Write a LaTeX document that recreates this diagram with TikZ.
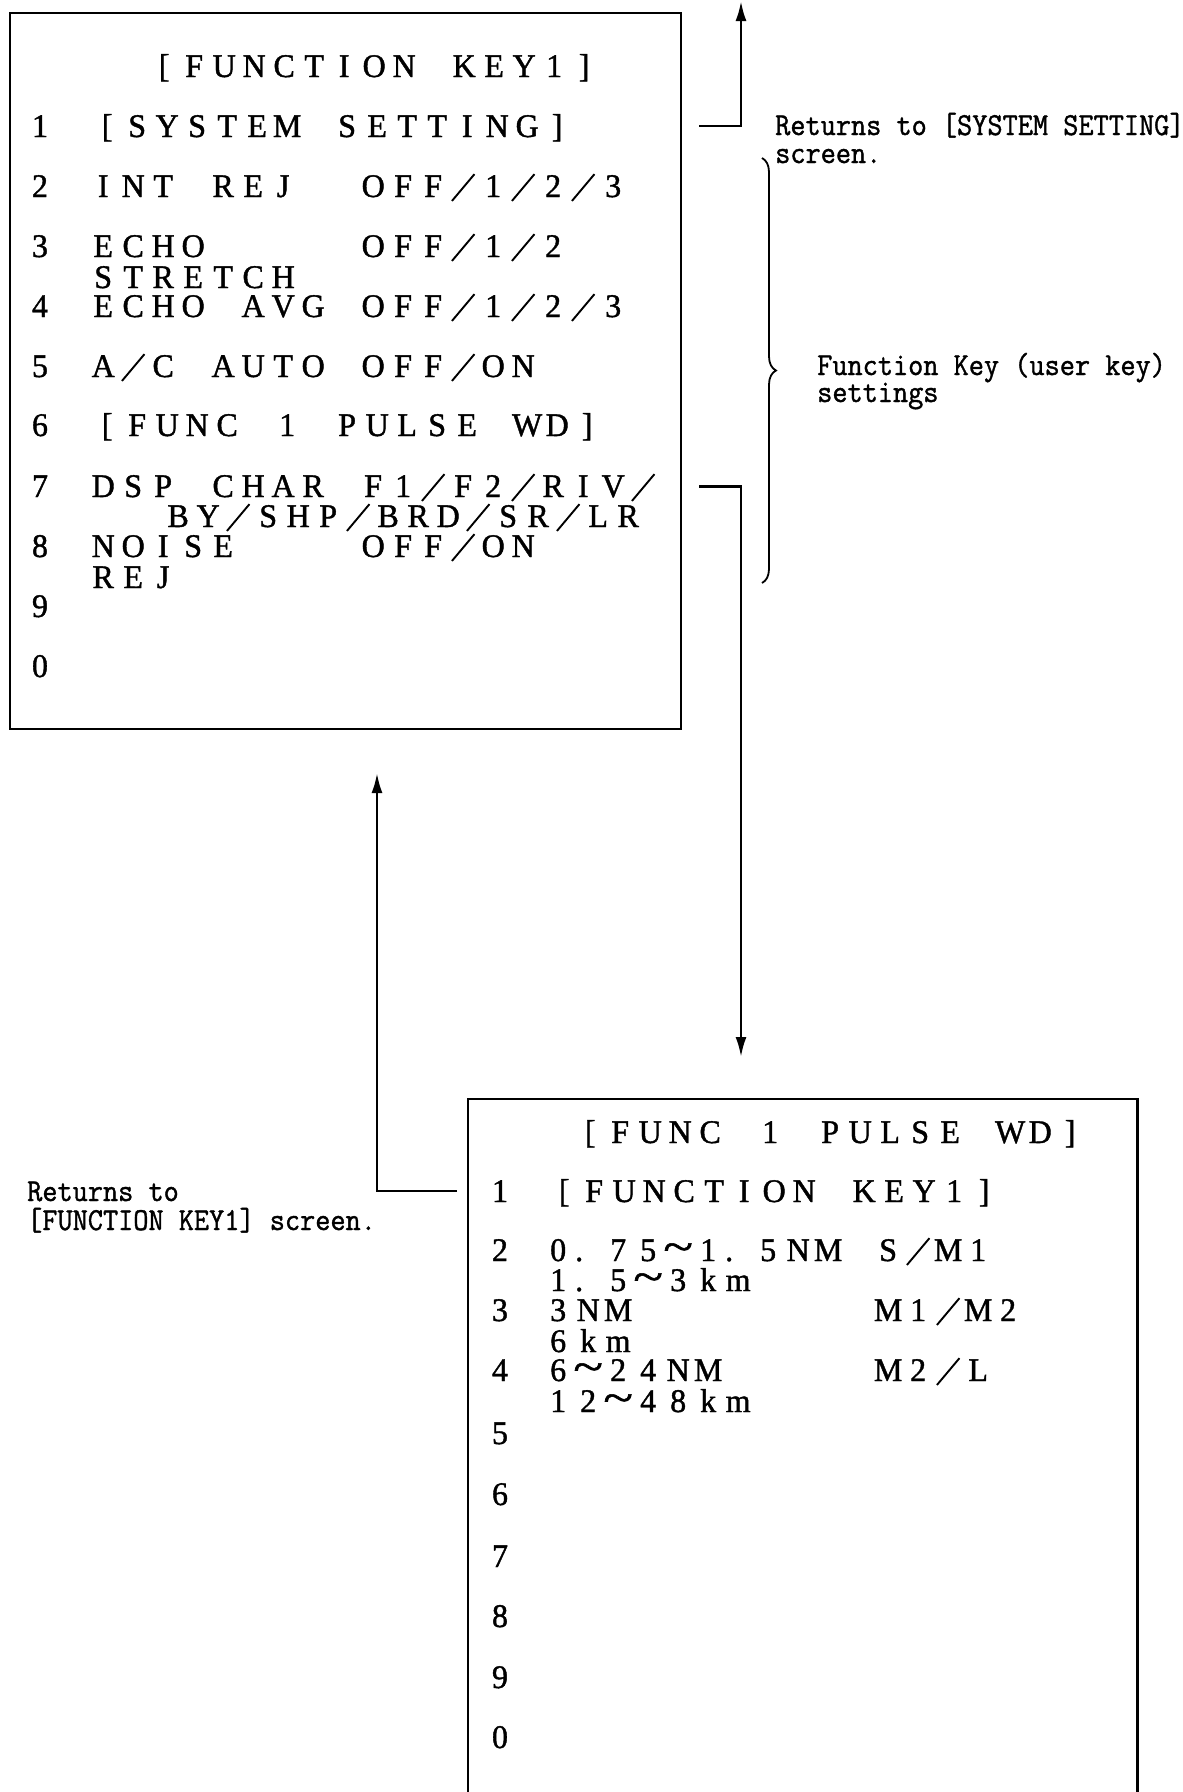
\documentclass[tikz,border=0pt]{standalone}
\usepackage{fontspec}
\usepackage{graphicx}
\usetikzlibrary{arrows.meta,decorations.pathreplacing}
\newfontfamily\boxfont[FakeStretch=0.97,FakeBold=1.2]{Liberation Serif}
\newfontfamily\labfont[FakeStretch=0.92,FakeBold=1.2]{Latin Modern Mono}
\ExplSyntaxOn
\dim_new:N \l_grid_pitch_dim
\dim_set:Nn \l_grid_pitch_dim {30pt}
\NewDocumentCommand \gridtext { m }
 {
  \str_map_inline:nn {#1}
   {
    \str_case:nnF {##1}
     {
      {/} { \makebox[\l_grid_pitch_dim]{\raisebox{8.5pt}{\rotatebox[origin=c]{50}{\rule{35pt}{1.9pt}}}} }
      {∼} { \makebox[\l_grid_pitch_dim]{\scalebox{1.7}[1.3]{\textasciitilde}} }
      {.} { \makebox[\l_grid_pitch_dim][l]{\hspace{2pt}.} }
      {_} { \makebox[\l_grid_pitch_dim]{} }
     }
     { \makebox[\l_grid_pitch_dim]{##1} }
   }
 }
\ExplSyntaxOff
\begin{document}
\begin{tikzpicture}[x=1pt,y=-1pt,
  boxtxt/.style={font=\boxfont\fontsize{33}{33}\selectfont, inner sep=0pt, anchor=base west},
  numtxt/.style={font=\boxfont\fontsize{33}{33}\selectfont, inner sep=0pt, anchor=base},
  labtxt/.style={font=\labfont\fontsize{32}{32}\selectfont, inner sep=0pt, anchor=base west},
  frame/.style={line width=2.2pt},
  conn/.style={line width=2.6pt, -{Latex[length=20pt,width=11pt]}},
  bracestyle/.style={line width=1.8pt, decorate, decoration={brace, amplitude=14pt}}
]
\useasboundingbox (0,0) rectangle (1183,1792);

% ---------- top screen ----------
\node[frame, draw, minimum width=671pt, minimum height=716pt, anchor=north west, inner sep=0pt] (tb) at (9,12) {};
\node[boxtxt] (tbT) at (149,77) {\gridtext{[FUNCTION_KEY1]}};
\foreach \n/\y in {1/137,2/197,3/257,4/317,5/377,6/436,7/497,8/557,9/617,0/677}
  \node[numtxt] (tbN\n) at (40,\y) {\n};
\node[boxtxt] (tbL1) at (92,137) {\gridtext{[SYSTEM_SETTING]}};
\node[boxtxt] (tbL2) at (88,197) {\gridtext{INT_REJ__OFF/1/2/3}};
\node[boxtxt] (tbL3) at (88,257) {\gridtext{ECHO_____OFF/1/2}};
\node[boxtxt] (tbL3b) at (88,288) {\gridtext{STRETCH}};
\node[boxtxt] (tbL4) at (88,317) {\gridtext{ECHO_AVG_OFF/1/2/3}};
\node[boxtxt] (tbL5) at (88,377) {\gridtext{A/C_AUTO_OFF/ON}};
\node[boxtxt] (tbL6) at (92,436) {\gridtext{[FUNC_1_PULSE_WD]}};
\node[boxtxt] (tbL7) at (88,497) {\gridtext{DSP_CHAR_F1/F2/RIV/}};
\node[boxtxt] (tbL7b) at (163,527) {\gridtext{BY/SHP/BRD/SR/LR}};
\node[boxtxt] (tbL8) at (88,557) {\gridtext{NOISE____OFF/ON}};
\node[boxtxt] (tbL8b) at (88,588) {\gridtext{REJ}};

% ---------- bottom screen ----------
\node[anchor=north west, minimum width=669pt, minimum height=700pt, inner sep=0pt] (bb) at (468,1099) {};
\draw[frame] (bb.south west) -- (bb.north west) -- (bb.north east) -- (bb.south east);
\node[boxtxt] (bbT) at (575,1143) {\gridtext{[FUNC_1_PULSE_WD]}};
\foreach \n/\y in {1/1202,2/1261,3/1321,4/1381,5/1444,6/1505,7/1567,8/1627,9/1688,0/1748}
  \node[numtxt] (bbN\n) at (500,\y) {\n};
\node[boxtxt] (bbL1) at (549,1202) {\gridtext{[FUNCTION_KEY1]}};
\node[boxtxt] (bbL2) at (543,1261) {\gridtext{0.75∼1.5NM_S/M1}};
\node[boxtxt] (bbL2b) at (543,1291) {\gridtext{1.5∼3km}};
\node[boxtxt] (bbL3) at (543,1321) {\gridtext{3NM________M1/M2}};
\node[boxtxt] (bbL3b) at (543,1352) {\gridtext{6km}};
\node[boxtxt] (bbL4) at (543,1381) {\gridtext{6∼24NM_____M2/L}};
\node[boxtxt] (bbL4b) at (543,1412) {\gridtext{12∼48km}};

% ---------- connectors ----------
\coordinate (c1e) at (741,1);
\coordinate (c2e) at (741,1057);
\coordinate (c3e) at (377,773);
\draw[conn] ([xshift=17pt]tb.east |- tbN1.center) -| (c1e);
\draw[conn] ([xshift=17pt]tb.east |- tbN7.center) -| (c2e);
\draw[conn] ([xshift=-11pt]bb.west |- bbN1.center) -| (c3e);

% ---------- brace ----------
\coordinate (br1) at (762,158);
\coordinate (br2) at (762,583);
\draw[bracestyle] (br1) -- (br2);

% ---------- labels ----------
\node[labtxt] (lab1a) at (775,135) {Returns to [SYSTEM SETTING]};
\node[labtxt] (lab1b) at (775,163) {screen.};
\node[labtxt] (lab2a) at (817,375) {Function Key (user key)};
\node[labtxt] (lab2b) at (817,402) {settings};
\node[labtxt] (lab3a) at (27,1201) {Returns to};
\node[labtxt] (lab3b) at (27,1230) {[FUNCTION KEY1] screen.};
\end{tikzpicture}
\end{document}
